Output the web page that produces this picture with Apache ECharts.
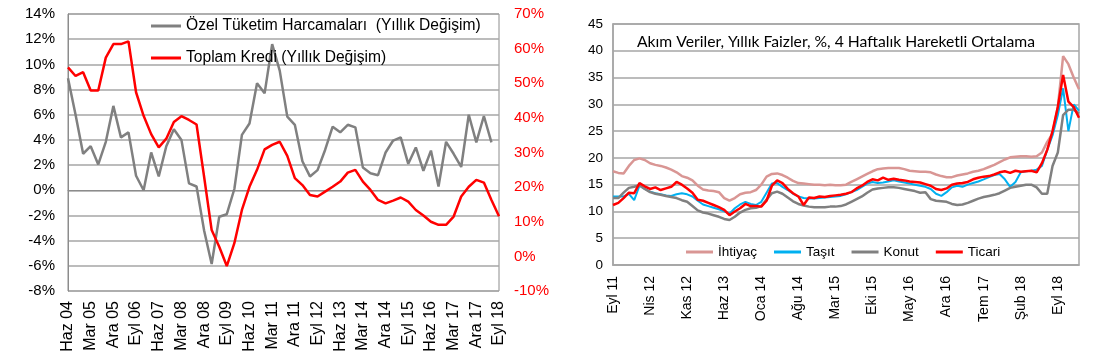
<!DOCTYPE html>
<html>
<head>
<meta charset="utf-8">
<script src="https://cdn.jsdelivr.net/npm/echarts@6/dist/echarts.min.js"></script>
<style>
html,body{margin:0;padding:0;background:#fff;}
#c{width:1096px;height:357px;}
</style>
</head>
<body>
<div id="c"></div>
<script>
// ---------- Left chart (quarterly) ----------
const quarters = ["Haz 04","Eyl 04","Ara 04","Mar 05","Haz 05","Eyl 05","Ara 05","Mar 06","Haz 06","Eyl 06",
"Ara 06","Mar 07","Haz 07","Eyl 07","Ara 07","Mar 08","Haz 08","Eyl 08","Ara 08","Mar 09",
"Haz 09","Eyl 09","Ara 09","Mar 10","Haz 10","Eyl 10","Ara 10","Mar 11","Haz 11","Eyl 11",
"Ara 11","Mar 12","Haz 12","Eyl 12","Ara 12","Mar 13","Haz 13","Eyl 13","Ara 13","Mar 14",
"Haz 14","Eyl 14","Ara 14","Mar 15","Haz 15","Eyl 15","Ara 15","Mar 16","Haz 16","Eyl 16",
"Ara 16","Mar 17","Haz 17","Eyl 17","Ara 17","Mar 18","Haz 18","Eyl 18"];
const ozelTuketim = [8.9,6.0,2.9,3.5,2.05,3.85,6.7,4.2,4.6,1.15,
0.0,3.0,1.1,3.5,4.85,4.0,0.55,0.3,-3.2,-5.85,
-2.1,-1.9,0.1,4.4,5.3,8.5,7.7,11.6,9.5,5.85,
5.2,2.3,1.1,1.6,3.2,5.05,4.6,5.2,5.0,1.8,
1.35,1.2,3.0,3.95,4.2,2.1,3.4,1.55,3.15,0.3,
3.85,2.9,1.85,6.0,3.8,5.9,3.8,null];
const toplamKredi = [54.6,52.1,53.2,47.9,47.9,57.4,61.3,61.3,62.1,47.4,
40.6,35.3,31.5,34.0,38.8,40.5,39.4,38.1,23.0,7.6,
2.8,-2.8,3.8,13.4,20.1,25.0,30.9,32.2,33.1,29.0,
22.6,20.6,17.7,17.3,18.7,20.1,21.6,24.2,25.0,21.6,
19.2,16.3,15.3,16.1,17.0,15.8,13.4,11.8,10.0,9.1,
9.1,11.5,17.3,20.1,22.1,21.3,16.3,11.6];

// ---------- Right chart (monthly) ----------
const monthNames = ["Oca","Şub","Mar","Nis","May","Haz","Tem","Ağu","Eyl","Eki","Kas","Ara"];
const rightTickLabels = ["Eyl 11","Nis 12","Kas 12","Haz 13","Oca 14","Ağu 14","Mar 15","Eki 15","May 16","Ara 16","Tem 17","Şub 18","Eyl 18"];
const ihtiyac = [17.5,17.2,17.1,18.5,19.6,19.9,19.6,19.0,18.7,18.5,
18.2,17.8,17.3,16.6,16.3,15.8,14.8,14.1,13.9,13.8,
13.6,12.5,12.0,12.5,13.2,13.5,13.6,14.0,15.0,16.5,
17.0,17.1,16.8,16.3,15.7,15.3,15.2,15.1,15.0,15.0,
14.9,15.0,14.9,14.9,15.0,15.5,16.0,16.5,17.0,17.5,
17.9,18.0,18.1,18.1,18.1,17.9,17.6,17.5,17.4,17.4,
17.3,16.9,16.6,16.4,16.4,16.7,16.9,17.1,17.4,17.6,
17.9,18.3,18.7,19.2,19.7,20.1,20.2,20.3,20.3,20.2,
20.3,21.0,23.0,24.5,29.5,39.0,37.5,35.0,32.8];
const tasit = [12.8,12.8,12.8,13.3,12.1,14.8,14.2,13.7,13.4,13.2,
13.0,12.9,13.2,13.4,13.2,12.8,12.0,11.3,11.0,10.7,
10.4,10.0,9.6,10.6,11.3,11.8,11.4,11.2,11.8,13.5,
15.2,15.3,14.6,14.0,13.3,12.8,12.5,12.4,12.4,12.5,
12.6,12.7,12.8,12.9,13.2,13.6,14.0,14.6,15.2,15.5,
15.3,15.4,15.6,15.8,15.6,15.4,15.2,15.0,14.8,14.6,
14.2,13.3,12.9,13.6,14.5,14.8,14.6,15.0,15.3,15.6,
16.0,16.4,16.8,17.0,16.0,14.6,15.5,17.3,17.5,17.6,
17.8,18.5,21.5,24.2,28.0,33.0,25.0,30.0,28.8];
const konut = [12.5,12.5,13.5,14.4,14.6,14.9,14.2,13.6,13.3,13.1,
12.9,12.7,12.5,12.1,11.8,11.0,10.2,9.8,9.6,9.3,
9.0,8.6,8.4,9.0,9.8,10.3,10.6,10.7,11.0,12.2,
13.4,13.7,13.3,12.6,11.9,11.4,11.1,10.9,10.8,10.8,
10.8,10.9,10.9,11.0,11.3,11.8,12.3,12.8,13.5,14.1,
14.3,14.4,14.5,14.5,14.4,14.2,14.0,13.8,13.5,13.6,
12.3,12.0,11.9,11.8,11.4,11.2,11.3,11.6,12.0,12.4,
12.7,12.9,13.1,13.4,13.9,14.4,14.6,14.8,15.0,15.0,
14.5,13.3,13.3,18.5,21.0,28.0,29.0,29.0,28.3];
const ticari = [11.2,11.6,12.5,13.5,13.4,15.3,14.7,14.2,14.5,14.0,
14.3,14.6,15.5,15.0,14.3,13.5,12.2,12.0,11.6,11.2,
10.8,10.3,9.3,10.0,10.6,11.4,11.0,11.0,10.9,12.0,
14.8,15.8,15.3,14.2,13.4,12.8,11.2,12.6,12.5,12.8,
12.7,12.9,13.0,13.1,13.3,13.6,14.3,14.8,15.5,16.0,
15.8,16.3,15.9,16.1,15.9,15.8,15.6,15.5,15.4,15.1,
14.8,14.2,14.0,14.3,15.0,15.2,15.3,15.5,16.0,16.3,
16.5,16.6,16.9,17.3,17.5,17.2,17.6,17.4,17.5,17.6,
17.3,19.0,21.5,25.0,29.5,35.5,30.5,29.5,27.5];

// month categories Eyl 11 .. Oca 19
const months = [];
for (let i = 0; i < ihtiyac.length; i++) {
  const mi = (8 + i) % 12;
  const yy = 11 + Math.floor((8 + i) / 12);
  months.push(monthNames[mi] + " " + String(yy).padStart(2, "0"));
}

const chart = echarts.init(document.getElementById('c'), null, {renderer: 'canvas'});
const leftFont = 'Liberation Sans, Arial, sans-serif';
const option = {
  animation: false,
  backgroundColor: '#ffffff',
  textStyle: {fontFamily: leftFont},
  title: {
    text: 'Akım Veriler, Yıllık Faizler, %, 4 Haftalık Hareketli Ortalama',
    left: 632, top: 29,
    textStyle: {fontFamily: 'Lato, Noto Sans, sans-serif', fontSize: 15.7, fontWeight: 'normal', color: '#000'}
  },
  legend: [
    {
      data: ['Özel Tüketim Harcamaları  (Yıllık Değişim)', 'Toplam Kredi (Yıllık Değişim)'],
      orient: 'vertical', left: 146, top: 13, itemGap: 16,
      itemWidth: 30, itemHeight: 3, icon: 'rect',
      textStyle: {fontSize: 15.6, color: '#000', fontFamily: leftFont}
    },
    {
      data: ['İhtiyaç', 'Taşıt', 'Konut', 'Ticari'],
      orient: 'horizontal', left: 681, top: 240, itemGap: 17,
      itemWidth: 27, itemHeight: 3, icon: 'rect',
      textStyle: {fontSize: 13.5, color: '#000', fontFamily: leftFont}
    }
  ],
  grid: [
    {left: 68, top: 14, width: 431, height: 277, show: true, borderColor: '#8c8c8c', borderWidth: 1, containLabel: false},
    {left: 613, top: 24, width: 466, height: 241, show: true, borderColor: '#a6a6a6', borderWidth: 1.5, containLabel: false}
  ],
  xAxis: [
    {
      gridIndex: 0, type: 'category', data: quarters, boundaryGap: false,
      axisLine: {lineStyle: {color: '#8c8c8c', width: 1}},
      axisTick: {show: false},
      axisLabel: {interval: 2, rotate: 90, fontSize: 16, color: '#000', margin: 10},
      splitLine: {show: false}
    },
    {
      gridIndex: 1, type: 'category', data: months, boundaryGap: false,
      axisLine: {lineStyle: {color: '#a6a6a6', width: 1.5}},
      axisTick: {show: false},
      axisLabel: {interval: 6, rotate: 90, fontSize: 14, color: '#000', margin: 11},
      splitLine: {show: false}
    }
  ],
  yAxis: [
    {
      gridIndex: 0, type: 'value', min: -8, max: 14, interval: 2,
      axisLine: {show: true, lineStyle: {color: '#8c8c8c'}},
      axisTick: {show: false},
      axisLabel: {formatter: '{value}%', fontSize: 15, color: '#000', margin: 13},
      splitLine: {lineStyle: {color: '#a6a6a6', width: 1.5}}
    },
    {
      gridIndex: 0, type: 'value', position: 'right', min: -10, max: 70, interval: 10,
      axisLine: {show: false},
      axisTick: {show: false},
      axisLabel: {formatter: '{value}%', fontSize: 15, color: '#ff0000', margin: 15},
      splitLine: {show: false}
    },
    {
      gridIndex: 1, type: 'value', min: 0, max: 45, interval: 5,
      axisLine: {show: true, lineStyle: {color: '#a6a6a6', width: 1.5}},
      axisTick: {show: false},
      axisLabel: {fontSize: 13.5, color: '#000', margin: 10},
      splitLine: {lineStyle: {color: '#a6a6a6', width: 1.5}}
    }
  ],
  series: [
    {name: 'Özel Tüketim Harcamaları  (Yıllık Değişim)', type: 'line', xAxisIndex: 0, yAxisIndex: 0,
     data: ozelTuketim, symbol: 'none', color: '#808080', lineStyle: {width: 2.5, color: '#808080'}},
    {name: 'Toplam Kredi (Yıllık Değişim)', type: 'line', xAxisIndex: 0, yAxisIndex: 1,
     data: toplamKredi, symbol: 'none', color: '#ff0000', lineStyle: {width: 2.5, color: '#ff0000'}},
    {name: 'İhtiyaç', type: 'line', xAxisIndex: 1, yAxisIndex: 2, data: ihtiyac, symbol: 'none',
     color: '#d99694', lineStyle: {width: 2.5, color: '#d99694'}},
    {name: 'Taşıt', type: 'line', xAxisIndex: 1, yAxisIndex: 2, data: tasit, symbol: 'none',
     color: '#00b0f0', lineStyle: {width: 2, color: '#00b0f0'}},
    {name: 'Konut', type: 'line', xAxisIndex: 1, yAxisIndex: 2, data: konut, symbol: 'none',
     color: '#808080', lineStyle: {width: 2.5, color: '#808080'}},
    {name: 'Ticari', type: 'line', xAxisIndex: 1, yAxisIndex: 2, data: ticari, symbol: 'none',
     color: '#ff0000', lineStyle: {width: 2.5, color: '#ff0000'}}
  ]
};
chart.setOption(option);
</script>
</body>
</html>
